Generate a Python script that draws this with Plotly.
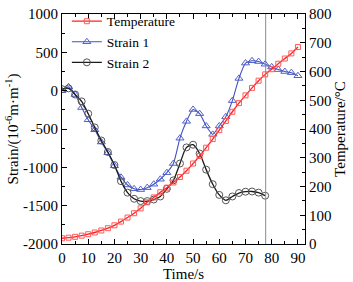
import plotly.graph_objects as go

# ---- data ----
time = [0, 2.5, 5, 7.5, 10, 12.5, 15, 17.5, 20, 22.5, 25, 27.5, 30, 32.5, 35, 37.5,
        40, 42.5, 45, 47.5, 50, 52.5, 55, 57.5, 60, 62.5, 65, 67.5, 70, 72.5, 75,
        77.5, 80, 82.5, 85, 87.5, 90]

temperature = [20, 22, 25, 29, 34, 40, 47, 55, 65, 78, 92, 107, 124, 145, 162, 180,
               196, 214, 233, 255, 280, 306, 335, 365, 396, 428, 460, 490, 517, 543,
               568, 590, 608, 627, 645, 663, 685]

strain1 = [0, 50, -50, -220, -380, -510, -670, -810, -980, -1130, -1230, -1280, -1290,
           -1265, -1220, -1155, -1070, -950, -620, -400, -245, -300, -460, -570, -460,
           -340, -130, 160, 360, 390, 380, 345, 310, 275, 250, 235, 195]

time2 = [0, 2.5, 5, 7.5, 10, 12.5, 15, 17.5, 20, 22.5, 25, 27.5, 30, 32.5, 35, 37.5,
         40, 42.5, 45, 47.5, 50, 52.5, 55, 57.5, 60, 62.5, 65, 67.5, 70, 72.5, 75, 77.5]

strain2 = [20, 30, -50, -140, -300, -480, -650, -800, -970, -1180, -1330, -1410, -1440,
           -1440, -1420, -1380, -1280, -1170, -950, -740, -705, -820, -1030, -1220,
           -1360, -1430, -1380, -1335, -1318, -1315, -1330, -1370]

cutoff_time = 77.7

x_ticks = [0, 10, 20, 30, 40, 50, 60, 70, 80, 90]
y_ticks = [-2000, -1500, -1000, -500, 0, 500, 1000]
y_ticktext = ["-2000", "-1500", "-1000", "-500", "0", "500", "1000"]
y2_ticks = [0, 100, 200, 300, 400, 500, 600, 700, 800]

FONT = "Liberation Serif, Times New Roman, serif"

fig = go.Figure()

fig.add_trace(go.Scatter(
    x=time, y=temperature, name="Temperature", yaxis="y2",
    mode="lines+markers", line=dict(color="#ff2020", width=1.3, shape="spline"),
    marker=dict(symbol="square-open", size=5, color="#ff5a5a", line=dict(width=1))))

fig.add_trace(go.Scatter(
    x=time, y=strain1, name="Strain 1",
    mode="lines+markers", line=dict(color="#3f51c0", width=1.1, shape="spline", smoothing=0.6),
    marker=dict(symbol="triangle-up-open", size=7, color="#5060c8", line=dict(width=1))))

fig.add_trace(go.Scatter(
    x=time2, y=strain2, name="Strain 2",
    mode="lines+markers", line=dict(color="#1a1a1a", width=1.3, shape="spline", smoothing=0.8),
    marker=dict(symbol="circle-open", size=7, color="#555555", line=dict(width=1))))

fig.add_shape(type="line", xref="x", yref="paper", x0=cutoff_time, x1=cutoff_time,
              y0=0, y1=1, line=dict(color="#8a8a8a", width=1))

axis_common = dict(showline=True, linecolor="black", linewidth=1, ticks="inside",
                   tickcolor="black", ticklen=5, tickwidth=1, showgrid=False,
                   zeroline=False, automargin=False,
                   tickfont=dict(family=FONT, size=15, color="black"))

fig.update_layout(
    width=353, height=282,
    margin=dict(l=62, r=48, t=14, b=38, autoexpand=False),
    paper_bgcolor="white", plot_bgcolor="white",
    font=dict(family=FONT, size=14, color="black"),
    showlegend=True,
    legend=dict(x=0.02, y=1.035, xanchor="left", yanchor="top",
                bgcolor="rgba(0,0,0,0)", font=dict(family=FONT, size=13.5),
                itemwidth=30, tracegroupgap=0),
    xaxis=dict(range=[0, 92.7], tickvals=x_ticks, mirror="ticks",
               minor=dict(ticks="inside", dtick=5, ticklen=3, tickcolor="black"),
               title=dict(text="Time/s", font=dict(family=FONT, size=15), standoff=2),
               **axis_common),
    yaxis=dict(range=[-2000, 1000], tickvals=y_ticks, ticktext=y_ticktext,
               minor=dict(ticks="inside", dtick=250, ticklen=3, tickcolor="black"),
               title=dict(text="Strain/(10<sup>-6</sup>m·m<sup>-1</sup>)",
                          font=dict(family=FONT, size=15), standoff=0),
               **axis_common),
    yaxis2=dict(range=[0, 800], tickvals=y2_ticks, overlaying="y", side="right",
                minor=dict(ticks="inside", dtick=50, ticklen=3, tickcolor="black"),
                title=dict(text="Temperature/°C", font=dict(family=FONT, size=15), standoff=2),
                **axis_common),
)

fig.write_html("out.html", config={"displayModeBar": False},
               post_script="document.body.style.margin='0';document.body.style.padding='0';")
